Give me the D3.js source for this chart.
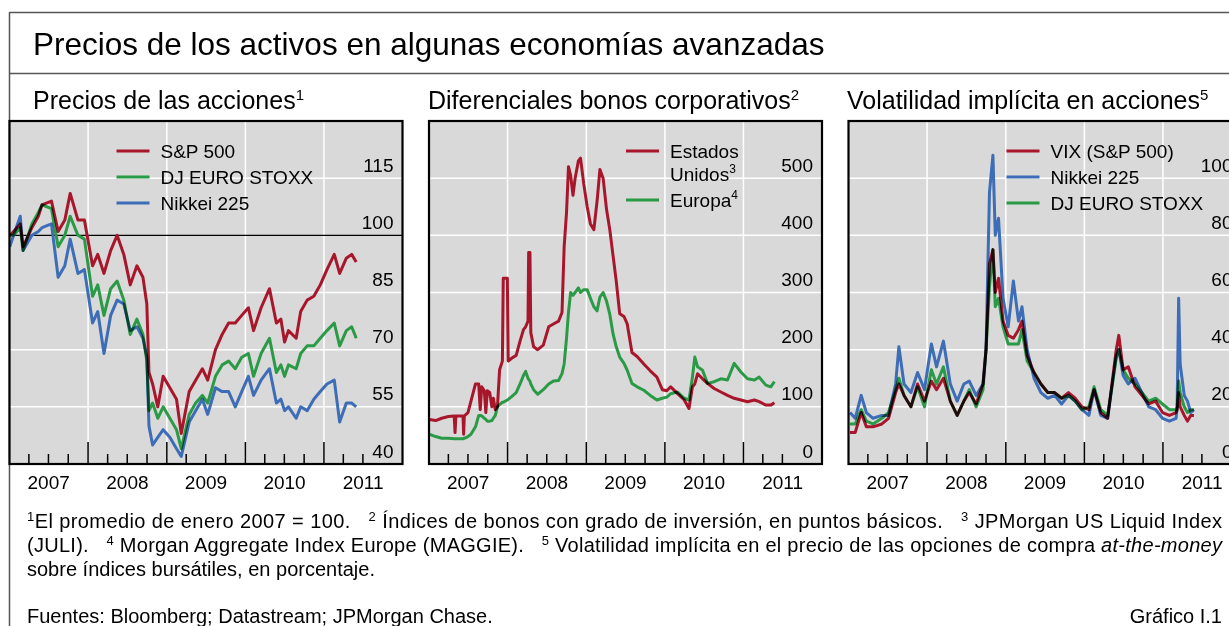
<!DOCTYPE html>
<html>
<head>
<meta charset="utf-8">
<script src="https://cdn.jsdelivr.net/npm/d3@7"></script>
<style>
  body { margin: 0; background: #fff; }
  svg { display: block; font-family: "Liberation Sans", Arial, sans-serif; }
  text { white-space: pre; }
</style>
</head>
<body>
<div class="canvas"></div>
<script>
// x axis labels
const years = ["2007", "2008", "2009", "2010", "2011"];

// panel 1: share prices, Jan 2007 average = 100
const stockDates = ["2007-01-02","2007-01-20","2007-02-20","2007-03-05","2007-04-15","2007-05-15","2007-06-01","2007-07-15","2007-08-15","2007-09-15","2007-10-10","2007-11-15","2007-12-15",
  "2008-01-22","2008-02-15","2008-03-15","2008-04-15","2008-05-15","2008-06-15","2008-07-15","2008-08-15","2008-09-12","2008-09-30","2008-10-10","2008-10-27","2008-11-20","2008-12-15",
  "2009-01-15","2009-02-15","2009-03-09","2009-04-15","2009-05-15","2009-06-15","2009-07-10","2009-08-15","2009-09-15","2009-10-15","2009-11-15","2009-12-15",
  "2010-01-15","2010-02-08","2010-03-15","2010-04-23","2010-05-25","2010-06-15","2010-07-02","2010-07-20","2010-08-25","2010-09-15","2010-10-15","2010-11-15","2010-12-15",
  "2011-01-15","2011-02-18","2011-03-15","2011-04-15","2011-05-10","2011-05-31"];
const sp500 = [100,101,103,97,102,105,108,109,101,104,111,104,104,
  92,95,90,96,100,95,87,92,89,82,64,61,55,63,
  60,57,48,59,62,65,62,70,74,77,77,79,
  81,75,81,86,77,78,72,75,73,80,83,84,87,
  91,95,90,94,95,93];
const euroStoxx = [100,100,102,96,103,106,108,107,97,100,105,100,99,
  84,87,79,86,88,83,74,78,74,67,54,56,52,55,
  52,49,44,53,56,58,56,63,66,67,65,68,
  69,63,69,73,64,66,63,66,65,69,71,71,73,
  75,77,71,75,76,73];
const nikkei = [97,100,105,96,100,101,102,103,89,92,99,90,91,
  77,80,69,79,83,82,75,76,73,68,50,45,47,49,
  47,44,42,51,54,57,53,60,59,59,55,59,
  63,58,62,65,56,57,54,55,52,55,54,57,59,
  61,62,51,56,56,55];
const stockTicks = [40, 55, 70, 85, 100, 115];

// panel 2: corporate bond spreads, basis points
const spreadDates = ["2007-01-02","2007-02-01","2007-03-01","2007-04-01","2007-04-28","2007-05-02","2007-05-06","2007-06-08","2007-06-11","2007-06-14","2007-07-01","2007-07-15","2007-08-05","2007-08-20","2007-08-27","2007-09-03","2007-09-15","2007-09-22","2007-09-29","2007-10-10","2007-10-20","2007-10-27","2007-11-05","2007-11-15","2007-11-25","2007-12-08","2007-12-12","2007-12-31",
  "2008-01-04","2008-01-20","2008-02-10","2008-02-28","2008-03-15","2008-03-25","2008-04-05","2008-04-08","2008-04-14","2008-04-18","2008-05-01","2008-05-20","2008-06-15","2008-07-10","2008-08-01","2008-08-25","2008-09-10","2008-09-20","2008-10-01","2008-10-10","2008-10-20","2008-10-31","2008-11-10","2008-11-25","2008-12-05","2008-12-20",
  "2009-01-05","2009-01-20","2009-02-05","2009-02-20","2009-03-05","2009-03-20","2009-04-05","2009-04-20","2009-05-05","2009-05-20","2009-06-05","2009-06-25","2009-07-10","2009-08-01","2009-08-25","2009-09-25","2009-10-25","2009-11-25","2009-12-20",
  "2010-01-10","2010-01-28","2010-03-01","2010-04-01","2010-04-23","2010-05-09","2010-05-20","2010-06-02","2010-06-25","2010-07-18","2010-08-18","2010-09-18","2010-10-19","2010-11-19","2010-12-20",
  "2011-01-20","2011-02-21","2011-03-15","2011-04-15","2011-05-08","2011-05-25"];
const spreadUS = [78,76,80,83,84,55,84,84,52,84,90,110,140,140,95,135,128,90,128,125,100,115,95,100,165,180,325,325,
  180,185,190,215,235,240,250,370,370,230,205,200,208,240,245,250,265,380,440,520,505,470,500,530,535,490,
  450,420,410,460,515,500,445,410,365,320,263,258,245,195,188,175,163,152,130,
  128,135,123,112,97,135,140,158,149,141,132,126,120,115,112,
  109,112,109,103,103,107];
const spreadEurope = [52,48,45,45,44,44,44,44,45,45,48,52,65,85,85,84,80,78,75,75,76,80,85,100,104,108,108,112,
  113,118,125,140,155,162,150,148,145,140,130,122,130,140,145,146,158,175,220,265,300,295,300,308,300,305,
  305,290,275,268,292,300,285,262,228,205,187,176,164,141,135,129,120,112,115,
  117,123,126,115,112,152,187,170,164,141,144,149,147,176,161,
  149,147,152,138,135,144];
const spreadTicks = [0, 100, 200, 300, 400, 500];

// panel 3: implied volatility, per cent
const volDates = ["2007-01-08","2007-02-01","2007-03-01","2007-03-25","2007-04-25","2007-06-05","2007-07-06","2007-08-08","2007-08-23","2007-09-16","2007-10-18","2007-11-18","2007-12-20",
  "2008-01-21","2008-02-14","2008-03-17","2008-04-18","2008-05-20","2008-06-20","2008-07-15","2008-08-16","2008-09-17","2008-10-01","2008-10-17","2008-11-02","2008-11-13","2008-11-28","2008-12-19",
  "2009-01-12","2009-02-05","2009-03-01","2009-03-17","2009-04-10","2009-05-12","2009-06-13","2009-07-15","2009-08-16","2009-09-17","2009-10-19","2009-11-19","2009-12-21",
  "2010-01-22","2010-02-15","2010-03-18","2010-04-19","2010-05-29","2010-06-10","2010-06-30","2010-07-24","2010-08-24","2010-09-25","2010-10-27","2010-11-28","2010-12-30",
  "2011-01-31","2011-03-03","2011-03-08","2011-03-15","2011-03-22","2011-04-10","2011-04-25","2011-05-10","2011-05-25"];
const vix = [11,11,18,13,13,14,16,25,28,24,20,28,22,
  29,26,30,22,17,22,25,21,28,40,70,75,60,65,50,
  45,44,47,50,38,32,28,25,25,23,25,23,20,
  19,26,18,16,40,45,33,34,27,24,21,22,18,
  17,18,19,25,20,17,15,17,17];
const volNikkei = [18,16,24,18,16,17,17,28,41,28,25,32,26,
  42,34,43,28,22,28,29,24,28,40,95,108,80,86,58,
  48,64,50,55,40,30,25,23,24,21,24,22,19,
  17,26,17,16,38,40,31,28,30,25,20,19,16,
  15,16,20,58,35,24,22,18,19];
const volEuroStoxx = [14,14,19,15,14,16,18,26,30,24,20,27,20,
  33,28,34,22,17,22,26,20,26,40,62,75,55,58,48,
  42,42,42,47,36,32,28,25,25,23,24,22,19,
  20,27,19,17,37,40,33,30,28,25,22,23,21,
  19,19,20,29,25,20,18,19,19];
const volTicks = [0, 20, 40, 60, 80, 100];

const red = "#a8162c", green = "#2b9a46", blue = "#3d6db6";

const W = 1229, H = 626;
const panelW = 393, plotTop = 121, plotBottom = 464;
const parse = d3.timeParse("%Y-%m-%d");

const svg = d3.select(".canvas").append("svg").attr("width", W).attr("height", H);

// outer frame
svg.append("line").attr("x1", 9.5).attr("x2", W).attr("y1", 12.5).attr("y2", 12.5).attr("stroke", "#555").attr("stroke-width", 1.5);
svg.append("line").attr("x1", 9.5).attr("x2", W).attr("y1", 73.5).attr("y2", 73.5).attr("stroke", "#555").attr("stroke-width", 1.5);
svg.append("line").attr("x1", 9.5).attr("x2", 9.5).attr("y1", 12).attr("y2", H).attr("stroke", "#555").attr("stroke-width", 1.5);

svg.append("text").attr("x", 33).attr("y", 55).attr("font-size", 31.5)
  .text("Precios de los activos en algunas economías avanzadas");

const panels = [
  {
    left: 9.5, id: "p1", title: "Precios de las acciones", sup: "1", titleX: 23.5,
    domain: [40, 130], ticks: stockTicks, refLine: 100,
    dates: stockDates,
    series: [
      { name: "Nikkei 225", values: nikkei, color: blue },
      { name: "DJ EURO STOXX", values: euroStoxx, color: green },
      { name: "S&P 500", values: sp500, color: red },
    ],
    legendX: 107,
    legend: [
      { label: ["S&P 500"], color: red, y: 151 },
      { label: ["DJ EURO STOXX"], color: green, y: 177 },
      { label: ["Nikkei 225"], color: blue, y: 203 },
    ],
  },
  {
    left: 429, id: "p2", title: "Diferenciales bonos corporativos", sup: "2", titleX: -1,
    domain: [0, 600], ticks: spreadTicks, refLine: null,
    dates: spreadDates,
    series: [
      { name: "Europa", values: spreadEurope, color: green },
      { name: "Estados Unidos", values: spreadUS, color: red },
    ],
    legendX: 197,
    legend: [
      { label: ["Estados", "Unidos"], sup: "3", color: red, y: 151 },
      { label: ["Europa"], sup: "4", color: green, y: 200 },
    ],
  },
  {
    left: 848.5, id: "p3", title: "Volatilidad implícita en acciones", sup: "5", titleX: -1.5,
    domain: [0, 120], ticks: volTicks, refLine: null,
    dates: volDates,
    series: [
      { name: "DJ EURO STOXX", values: volEuroStoxx, color: green },
      { name: "Nikkei 225", values: volNikkei, color: blue },
      { name: "VIX (S&P 500)", values: vix, color: red },
    ],
    legendX: 158,
    legend: [
      { label: ["VIX (S&P 500)"], color: red, y: 151 },
      { label: ["Nikkei 225"], color: blue, y: 177 },
      { label: ["DJ EURO STOXX"], color: green, y: 203 },
    ],
  },
];

const drawPanel = (cfg) => {
  const g = svg.append("g").attr("transform", `translate(${cfg.left}, 0)`);

  const x = d3.scaleTime().domain([parse("2007-01-01"), parse("2012-01-01")]).range([0, panelW]);
  const y = d3.scaleLinear().domain(cfg.domain).range([plotBottom, plotTop]);

  // title
  const title = g.append("text").attr("x", cfg.titleX).attr("y", 109).attr("font-size", 25).text(cfg.title);
  title.append("tspan").attr("font-size", 15).attr("dy", -9).text(cfg.sup);

  // background
  g.append("rect").attr("x", 0).attr("y", plotTop).attr("width", panelW).attr("height", plotBottom - plotTop).attr("fill", "#d9d9d9");

  // grid
  const yearStarts = years.slice(1).map((s) => parse(s + "-01-01"));
  g.selectAll(".vgrid").data(yearStarts).join("line").attr("class", "vgrid")
    .attr("x1", (d) => x(d)).attr("x2", (d) => x(d)).attr("y1", plotTop).attr("y2", plotBottom)
    .attr("stroke", "#fff").attr("stroke-width", 1.5);
  g.selectAll(".hgrid").data(cfg.ticks.slice(1)).join("line").attr("class", "hgrid")
    .attr("x1", 0).attr("x2", panelW).attr("y1", (d) => y(d)).attr("y2", (d) => y(d))
    .attr("stroke", (d) => (d === cfg.refLine ? "#000" : "#fff"))
    .attr("stroke-width", (d) => (d === cfg.refLine ? 1.3 : 1.5));

  // lines
  g.append("clipPath").attr("id", "clip-" + cfg.id).append("rect")
    .attr("x", 0).attr("y", plotTop).attr("width", panelW).attr("height", plotBottom - plotTop);
  const dates = cfg.dates.map(parse);
  const line = d3.line().x((d, i) => x(dates[i])).y((d) => y(d));
  const lines = g.append("g").attr("clip-path", `url(#clip-${cfg.id})`).style("isolation", "isolate");
  lines.selectAll("path").data(cfg.series).join("path")
    .attr("d", (d) => line(d.values))
    .attr("fill", "none").attr("stroke", (d) => d.color).attr("stroke-width", 3)
    .attr("stroke-linejoin", "round")
    .style("mix-blend-mode", "multiply");

  // quarterly ticks from the bottom edge
  const quarters = d3.timeMonth.every(3).range(parse("2007-04-01"), parse("2011-07-02"));
  g.selectAll(".tick").data(quarters).join("line").attr("class", "tick")
    .attr("x1", (d) => x(d)).attr("x2", (d) => x(d))
    .attr("y1", plotBottom).attr("y2", (d) => plotBottom - (d.getMonth() === 0 ? 22 : 10))
    .attr("stroke", "#000").attr("stroke-width", 1.5);

  // year labels centred on mid-year
  g.selectAll(".year").data(years).join("text").attr("class", "year")
    .attr("x", (d) => x(parse(d + "-07-02"))).attr("y", 489)
    .attr("text-anchor", "middle").attr("font-size", 19).text((d) => d);

  // value labels inside the right edge
  g.selectAll(".ylab").data(cfg.ticks).join("text").attr("class", "ylab")
    .attr("x", panelW - 9).attr("y", (d) => y(d) - 6.5)
    .attr("text-anchor", "end").attr("font-size", 19).text((d) => d);

  // legend
  cfg.legend.forEach((item) => {
    g.append("line").attr("x1", cfg.legendX).attr("x2", cfg.legendX + 33)
      .attr("y1", item.y).attr("y2", item.y).attr("stroke", item.color).attr("stroke-width", 3);
    item.label.forEach((txt, i) => {
      const t = g.append("text").attr("x", cfg.legendX + 44).attr("y", item.y + 7 + i * 23)
        .attr("font-size", 19).text(txt);
      if (item.sup && i === item.label.length - 1) {
        t.append("tspan").attr("font-size", 12).attr("dy", -8).text(item.sup);
      }
    });
  });

  // border
  g.append("rect").attr("x", 0).attr("y", plotTop).attr("width", panelW).attr("height", plotBottom - plotTop)
    .attr("fill", "none").attr("stroke", "#000").attr("stroke-width", 2.2);
};

panels.forEach(drawPanel);

// footnotes
const notes = [
  { y: 528, fit: 1195, parts: [["1", "sup"], ["El promedio de enero 2007 = 100.   "], ["2", "sup"], [" Índices de bonos con grado de inversión, en puntos básicos.   "], ["3", "sup"], [" JPMorgan US Liquid Index"]] },
  { y: 552, fit: 1195, parts: [["(JULI).   "], ["4", "sup"], [" Morgan Aggregate Index Europe (MAGGIE).   "], ["5", "sup"], [" Volatilidad implícita en el precio de las opciones de compra "], ["at-the-money", "it"]] },
  { y: 576, fit: null, parts: [["sobre índices bursátiles, en porcentaje."]] },
  { y: 623, fit: null, parts: [["Fuentes: Bloomberg; Datastream; JPMorgan Chase."]] },
];

notes.forEach((n) => {
  const t = svg.append("text").attr("x", 27).attr("y", n.y).attr("font-size", 20);
  if (n.fit) t.attr("textLength", n.fit).attr("lengthAdjust", "spacing");
  let raised = false;
  n.parts.forEach(([txt, kind]) => {
    const s = t.append("tspan").text(txt);
    if (kind === "sup") {
      s.attr("font-size", 13).attr("dy", raised ? 0 : -7);
      raised = true;
    } else {
      if (raised) s.attr("dy", 7);
      raised = false;
      if (kind === "it") s.attr("font-style", "italic");
    }
  });
});

svg.append("text").attr("x", 1222).attr("y", 623).attr("text-anchor", "end").attr("font-size", 20).text("Gráfico I.1");
</script>
</body>
</html>
